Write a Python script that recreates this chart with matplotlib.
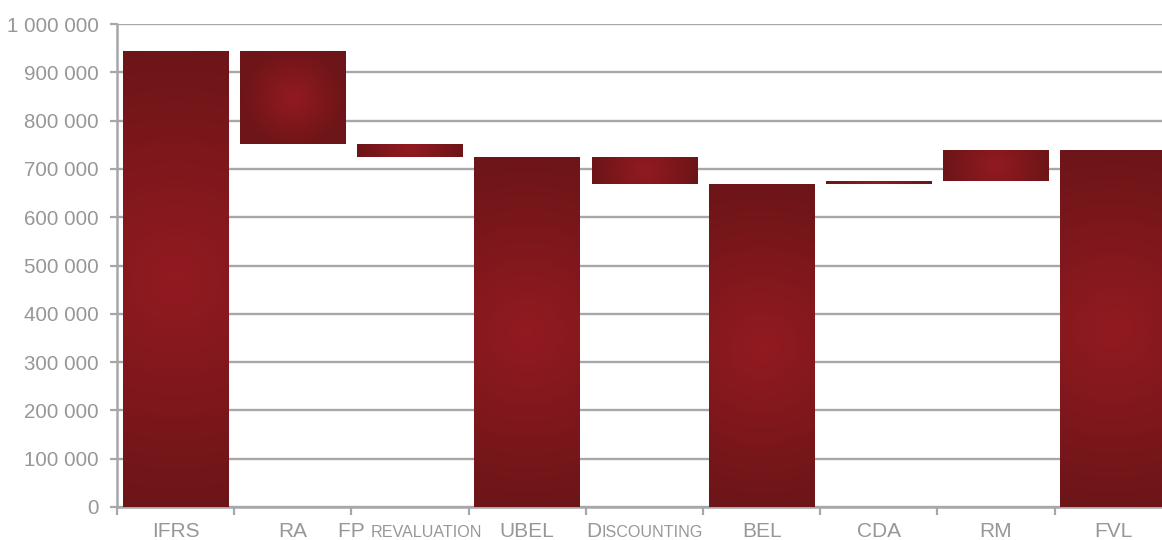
import numpy as np
import matplotlib
matplotlib.use("Agg")
import matplotlib.pyplot as plt
from matplotlib.colors import LinearSegmentedColormap
from matplotlib.offsetbox import TextArea, HPacker, AnnotationBbox

# -----------------------------
# Waterfall data
# -----------------------------
categories = ["IFRS", "RA", "FP revaluation", "UBEL", "Discounting",
              "BEL", "CDA", "RM", "FVL"]
# label pieces: (text, small caps?)
label_parts = [
    [("IFRS", False)],
    [("RA", False)],
    [("FP ", False), ("REVALUATION", True)],
    [("UBEL", False)],
    [("D", False), ("ISCOUNTING", True)],
    [("BEL", False)],
    [("CDA", False)],
    [("RM", False)],
    [("FVL", False)],
]
bar_low = [0, 752000, 724000, 0, 668000, 0, 668000, 675000, 0]
bar_high = [944000, 944000, 752000, 724000, 724000, 668000, 675000, 739000, 739000]

yticks = np.arange(0, 1000001, 100000)

GRAY = "#a7a7aa"
TXT = "#979797"
plt.rcParams["font.family"] = ["Liberation Sans", "DejaVu Sans"]

fig = plt.figure(figsize=(11.62, 5.40), dpi=100)
ax = fig.add_axes([117 / 1162, 33 / 540, 1045 / 1162, 483 / 540])

x = np.arange(len(categories))
ax.set_xlim(-0.5, -0.5 + 1045 / 117.2)
ax.set_ylim(0, 1000000)

bars = ax.bar(x, np.array(bar_high) - np.array(bar_low), bottom=bar_low,
              width=0.9, color="#7e171b", zorder=2)

# radial gradient fill for each bar
cmap = LinearSegmentedColormap.from_list("redgrad", ["#921a21", "#6d1518"])
fig.canvas.draw()
for rect in bars:
    x0, y0 = rect.get_x(), rect.get_y()
    w, h = rect.get_width(), rect.get_height()
    (px0, py0), (px1, py1) = ax.transData.transform([(x0, y0), (x0 + w, y0 + h)])
    pw, ph = abs(px1 - px0), abs(py1 - py0)
    nx, ny = max(int(pw), 2), max(int(ph), 2)
    gx = np.linspace(-pw / 2, pw / 2, nx)
    gy = np.linspace(-ph / 2, ph / 2, ny)
    GX, GY = np.meshgrid(gx, gy)
    r = np.hypot(GX, GY) / (max(pw, ph) / 2)
    img = ax.imshow(np.clip(r, 0, 1), cmap=cmap, vmin=0, vmax=1,
                    extent=(x0, x0 + w, y0, y0 + h), aspect="auto",
                    interpolation="bilinear", zorder=3)
    img.set_clip_path(rect)

ax.set_xlim(-0.5, -0.5 + 1045 / 117.2)
ax.set_ylim(0, 1000000)

# -----------------------------
# Axes styling
# -----------------------------
ax.set_yticks(yticks)
ax.set_yticklabels([f"{v:,.0f}".replace(",", " ") for v in yticks])
ax.grid(axis="y", color=GRAY, linewidth=1.7, zorder=0)
ax.set_axisbelow(True)
for s in ["top", "right"]:
    ax.spines[s].set_visible(False)
for s in ["left", "bottom"]:
    ax.spines[s].set_color(GRAY)
    ax.spines[s].set_linewidth(1.8)
ax.tick_params(axis="y", colors=GRAY, length=5, width=1.6, labelsize=14.8,
               labelcolor=TXT, pad=8)
ax.set_xticks(x)
ax.set_xticklabels([])
ax.tick_params(axis="x", which="major", length=0)
ax.set_xticks(np.arange(-0.5, len(categories) - 0.5, 1), minor=True)
ax.tick_params(axis="x", which="minor", colors=GRAY, length=6, width=1.6)

# category labels with small caps pieces
for i, parts in enumerate(label_parts):
    areas = [TextArea(t, textprops=dict(color=TXT,
                                        fontsize=11.6 if sc else 15,
                                        family=["Liberation Sans", "DejaVu Sans"]))
             for t, sc in parts]
    pack = HPacker(children=areas, align="baseline", pad=0, sep=0)
    ab = AnnotationBbox(pack, (x[i], 0), xycoords=ax.get_xaxis_transform(),
                        xybox=(0, -10.5), boxcoords="offset points",
                        box_alignment=(0.5, 1), frameon=False,
                        annotation_clip=False)
    ax.add_artist(ab)

fig.savefig("out.png", dpi=100)
